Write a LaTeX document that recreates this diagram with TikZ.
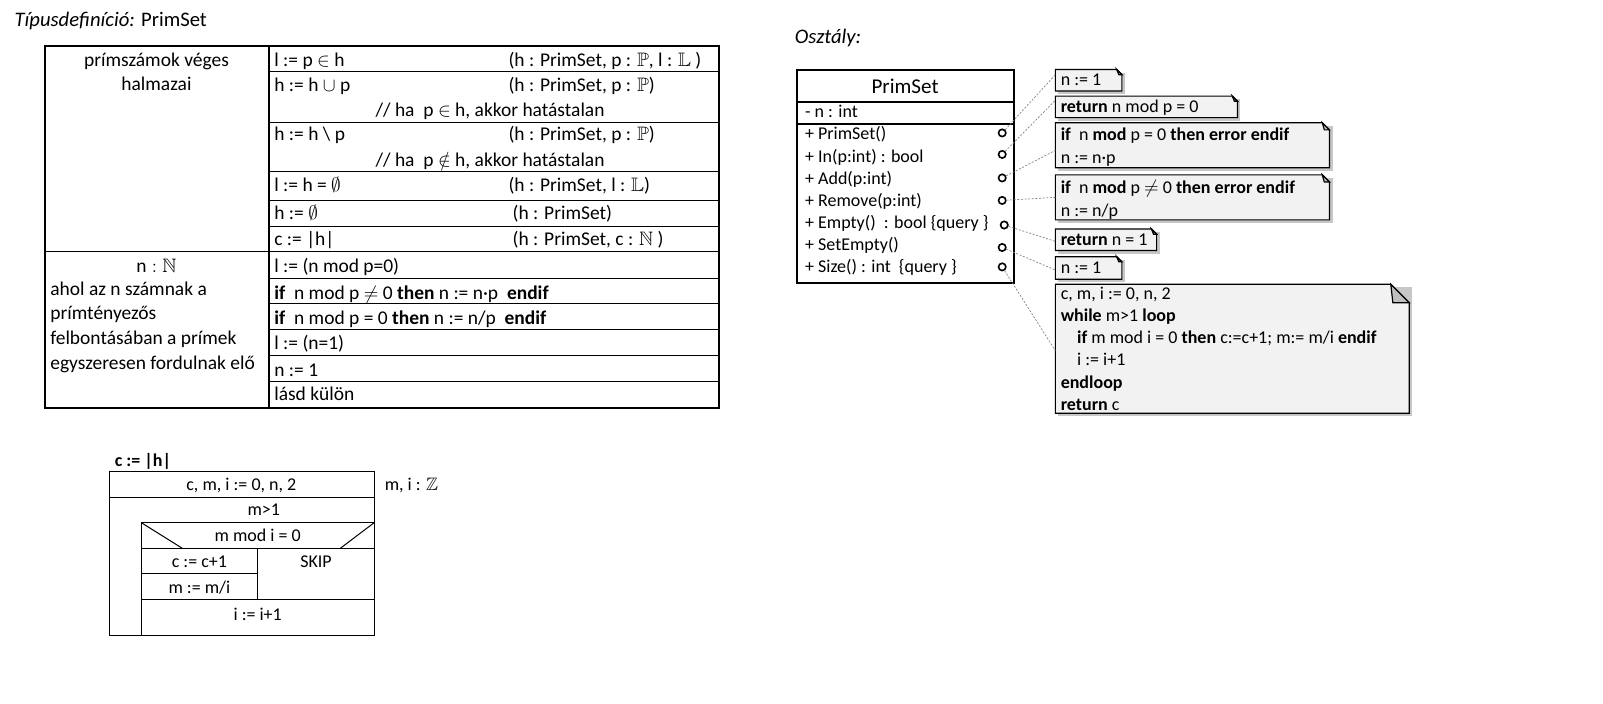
\documentclass[tikz,border=0pt]{standalone}
\usepackage{amsmath}
\usepackage{amssymb}
\usepackage{fontspec}
\setmainfont{Carlito}
\usepackage{tikz}

% note with folded corner: x1, y1, x2, y2, corner
\newcommand{\notebox}[5]{%
  \fill[noteshadow] (#1+3,#2+3) rectangle (#3+3,#4+3);
  \draw[notefill] (#1,#2) -- (#3-#5,#2) -- (#3,#2+#5) -- (#3,#4) -- (#1,#4) -- cycle;
  \draw[notefill, fill=black!25] (#3-#5,#2) -- (#3-#5+2,#2+#5) -- (#3,#2+#5) -- cycle;
}

\begin{document}
\begin{tikzpicture}[x=0.767pt, y=-0.767pt,
  every node/.style={font=\fontsize{13.5}{16}\selectfont, inner sep=0pt, text height=10.5pt, text depth=1.5pt},
  txt/.style={anchor=west},
  tab/.style={font=\fontsize{14.6}{17}\selectfont},
  head/.style={anchor=west, font=\fontsize{15.5}{18}\selectfont},
  frame/.style={line width=1.5pt},
  rowline/.style={line width=0.75pt},
  port/.style={circle, draw, line width=1.2pt, minimum size=5.5pt, text height=0pt, text depth=0pt},
  link/.style={black!50, line width=0.5pt, dash pattern=on 1.5pt off 1.2pt},
  notefill/.style={fill=black!5, draw=black, line width=0.9pt},
  noteshadow/.style={fill=black!22}]

\fill[white] (0,0) rectangle (1567.5,688.3);

% tipusdefinicio
\node[head] (title) at (14,20) {\textit{Típusdefiníció:} PrimSet};
\draw[frame] (44,45) rectangle (703,399);
\draw[line width=1.2pt] (263,45) -- (263,399);
\draw[rowline] (44,246) -- (263,246);
\foreach \y in {70,120,168,196,221,246,272,297,322,348,373}
  \draw[rowline] (263,\y) -- (703,\y);

\node[tab] (set1) at (153,59) {prímszámok véges};
\node[tab] (set2) at (153,83) {halmazai};
\node[tab] (rep0) at (153,261) {$\mathrm{n}:\mathbb{N}$};
\node[tab, txt] (rep1) at (49,283) {ahol az n számnak a};
\node[tab, txt] (rep2) at (49,307) {prímtényezős};
\node[tab, txt] (rep3) at (49,331) {felbontásában a prímek};
\node[tab, txt] (rep4) at (49,355) {egyszeresen fordulnak elő};

\node[tab, txt] (op1) at (268,59) {l := p $\in$ h};
\node[tab, txt] (ty1) at (497,59) {(h : PrimSet, p : $\mathbb{P}$, l : $\mathbb{L}$ )};
\node[tab, txt] (op2) at (268,84) {h := h $\cup$ p};
\node[tab, txt] (ty2) at (497,84) {(h : PrimSet, p : $\mathbb{P}$)};
\node[tab, txt] (cm2) at (367,108) {// ha~~p $\in$ h, akkor hatástalan};
\node[tab, txt] (op3) at (268,132) {h := h \textbackslash{} p};
\node[tab, txt] (ty3) at (497,132) {(h : PrimSet, p : $\mathbb{P}$)};
\node[tab, txt] (cm3) at (367,157) {// ha~~p $\notin$ h, akkor hatástalan};
\node[tab, txt] (op4) at (268,181) {l := h = $\emptyset$};
\node[tab, txt] (ty4) at (497,181) {(h : PrimSet, l : $\mathbb{L}$)};
\node[tab, txt] (op5) at (268,209) {h := $\emptyset$};
\node[tab, txt] (ty5) at (501,209) {(h : PrimSet)};
\node[tab, txt] (op6) at (268,234) {c := |h|};
\node[tab, txt] (ty6) at (501,234) {(h : PrimSet, c : $\mathbb{N}$ )};

\node[tab, txt] (im1) at (268,261) {l := (n mod p=0)};
\node[tab, txt] (im2) at (268,287) {\textbf{if}~~n mod p $\neq$ 0 \textbf{then} n := n·p~~\textbf{endif}};
\node[tab, txt] (im3) at (268,311) {\textbf{if}~~n mod p = 0 \textbf{then} n := n/p~~\textbf{endif}};
\node[tab, txt] (im4) at (268,336) {l := (n=1)};
\node[tab, txt] (im5) at (268,362) {n := 1};
\node[tab, txt] (im6) at (268,386) {lásd külön};

% struktogram
\node[txt] (sz0) at (112,450) {\textbf{c := |h|}};
\draw[rowline] (107,461) rectangle (366,621);
\draw[rowline] (107,486) -- (366,486);
\draw[rowline] (138,511) rectangle (366,621);
\draw[rowline] (138,536) -- (366,536);
\draw[rowline] (138,511) -- (178,536);
\draw[rowline] (366,511) -- (333,536);
\draw[rowline] (252,536) -- (252,586);
\draw[rowline] (138,561) -- (252,561);
\draw[rowline] (138,586) -- (366,586);
\node (sz1) at (236,474) {c, m, i := 0, n, 2};
\node[txt] (sz2) at (376,474) {m, i : $\mathbb{Z}$};
\node (sz3) at (258,498) {m>1};
\node (sz4) at (252,524) {m mod i = 0};
\node (sz5) at (195,549) {c := c+1};
\node (sz6) at (309,549) {SKIP};
\node (sz7) at (195,574) {m := m/i};
\node (sz8) at (252,601) {i := i+1};

% osztaly
\node[head] (cls) at (777,37) {\textit{Osztály:}};
\draw[frame] (779,68) rectangle (992,277);
\draw[frame] (779,100) -- (992,100);
\draw[frame] (779,121) -- (992,121);
\node (name) at (885,86) {\fontsize{15.8}{18}\selectfont PrimSet};
\node[txt] (attr) at (787,109) {- n : int};
\node[txt] (m1) at (787,131) {+ PrimSet()};
\node[txt] (m2) at (787,153) {+ In(p:int) : bool};
\node[txt] (m3) at (787,174.5) {+ Add(p:int)};
\node[txt] (m4) at (787,196) {+ Remove(p:int)};
\node[txt] (m5) at (787,217.5) {+ Empty()~~: bool \{query \}};
\node[txt] (m6) at (787,239) {+ SetEmpty()};
\node[txt] (m7) at (787,260.5) {+ Size() : int~~\{query \}};
\node[port] (p1) at (980,130) {};
\node[port] (p2) at (980,151) {};
\node[port] (p3) at (980,174) {};
\node[port] (p4) at (980,196) {};
\node[port] (p5) at (982,220) {};
\node[port] (p6) at (980,242) {};
\node[port] (p7) at (980,261) {};

% megjegyzesek
\notebox{1032}{68}{1097}{89}{5}
\notebox{1032}{94}{1210}{115}{5}
\notebox{1032}{120}{1300}{164}{7}
\notebox{1032}{171}{1300}{215}{7}
\notebox{1032}{224}{1131}{245}{5}
\notebox{1032}{251}{1097}{273}{5}
\notebox{1032}{278}{1378}{404}{18}
\node[txt] (n1) at (1037,78) {n := 1};
\node[txt] (n2) at (1037,104) {\textbf{return} n mod p = 0};
\node[txt] (n3a) at (1037,132) {\textbf{if}~~n \textbf{mod} p = 0 \textbf{then error endif}};
\node[txt] (n3b) at (1037,154) {n := n·p};
\node[txt] (n4a) at (1037,183) {\textbf{if}~~n \textbf{mod} p $\neq$ 0 \textbf{then error endif}};
\node[txt] (n4b) at (1037,206) {n := n/p};
\node[txt] (n5) at (1037,234) {\textbf{return} n = 1};
\node[txt] (n6) at (1037,262) {n := 1};
\node[txt] (n7a) at (1037,287) {c, m, i := 0, n, 2};
\node[txt] (n7b) at (1037,309) {\textbf{while} m>1 \textbf{loop}};
\node[txt] (n7c) at (1053,330) {\textbf{if} m mod i = 0 \textbf{then} c:=c+1; m:= m/i \textbf{endif}};
\node[txt] (n7d) at (1053,352) {i := i+1};
\node[txt] (n7e) at (1037,374) {\textbf{endloop}};
\node[txt] (n7f) at (1037,396) {\textbf{return} c};

\coordinate (e1) at (1032,73);
\coordinate (e2) at (1032,98);
\coordinate (e3) at (1032,147);
\coordinate (e4) at (1032,193);
\coordinate (e5) at (1032,236);
\coordinate (e6) at (1032,264);
\coordinate (e7) at (1032,343);
\foreach \i in {1,...,7}
  \draw[link] (p\i) -- (e\i);

\pgfresetboundingbox
\useasboundingbox (0,0) rectangle (1567.5,688.3);
\end{tikzpicture}
\end{document}
